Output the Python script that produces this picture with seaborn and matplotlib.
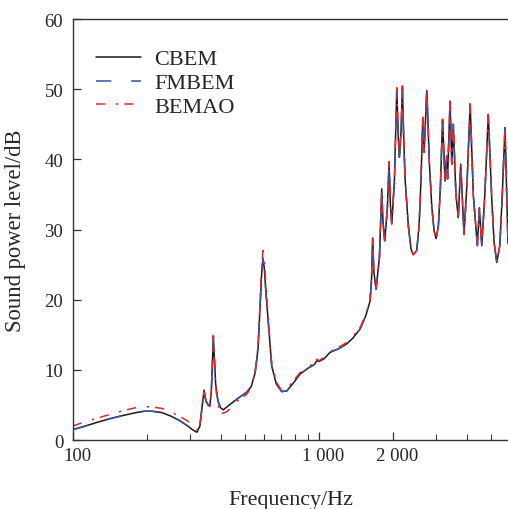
import numpy as np
import pandas as pd
import matplotlib
matplotlib.use("Agg")
import matplotlib.pyplot as plt
import matplotlib.transforms as mtransforms
import seaborn as sns

# 데이터
freq = [100, 110, 125, 140, 160, 180, 195, 210, 230, 250, 270, 290, 305, 319, 328,
        334, 341, 347, 354, 360, 365, 369, 372, 375, 380, 388, 398, 408, 425, 447,
        475, 508, 530, 550, 565, 576, 585, 592, 599, 610, 622, 642, 670, 705, 740,
        790, 837, 900, 960, 979, 1000, 1050, 1109, 1200, 1296, 1371, 1468, 1552, 1612, 1635,
        1652, 1670, 1705, 1760, 1798, 1820, 1849, 1895, 1926, 1950, 1975, 2025, 2070, 2100, 2121,
        2155, 2182, 2205, 2237, 2307, 2366, 2415, 2495, 2550, 2598, 2640, 2673, 2742, 2808, 2871,
        2935, 2990, 3055, 3112, 3177, 3252, 3303, 3330, 3408, 3463, 3515, 3600, 3680, 3767, 3884,
        4000, 4113, 4239, 4401, 4484, 4586, 4720, 4875, 5036, 5145, 5277, 5428, 5546, 5700, 5862]

cbem = [1.5, 1.9, 2.5, 3.0, 3.5, 3.9, 4.1, 4.1, 3.9, 3.4, 2.8, 2.1, 1.5, 1.1, 2.0,
        4.5, 7.1, 5.6, 5.0, 4.8, 7.0, 11.5, 14.8, 12.0, 8.0, 5.6, 4.6, 4.3, 4.8, 5.4,
        6.1, 6.8, 7.6, 9.6, 13.0, 19.1, 24.0, 25.9, 24.5, 20.5, 16.8, 10.6, 8.0, 6.9, 7.0,
        8.2, 9.4, 10.2, 10.8, 11.3, 11.2, 11.6, 12.5, 13.0, 13.7, 14.5, 15.8, 17.8, 19.8, 23.0,
        28.8, 24.0, 21.5, 26.0, 35.8, 31.0, 28.4, 33.0, 39.5, 33.5, 30.8, 37.0, 50.1, 43.0, 40.3,
        44.0, 50.4, 44.0, 37.2, 30.5, 27.2, 26.4, 27.0, 30.5, 37.2, 45.8, 41.0, 49.8, 39.5, 33.4,
        29.8, 28.7, 30.5, 35.8, 45.7, 36.9, 40.5, 37.2, 48.3, 39.3, 45.0, 35.0, 31.7, 39.3, 29.3,
        37.0, 47.9, 34.8, 27.7, 33.1, 27.7, 35.0, 46.4, 34.3, 28.2, 25.3, 27.7, 34.3, 44.5, 28.0]

fmbem = [1.5, 1.9, 2.5, 3.0, 3.5, 3.9, 4.1, 4.1, 3.9, 3.4, 2.8, 2.1, 1.5, 1.1, 2.0,
         4.4, 7.0, 5.5, 5.0, 4.8, 7.0, 11.5, 14.7, 12.0, 8.0, 5.6, 4.6, 4.3, 4.8, 5.4,
         6.1, 6.8, 7.6, 9.6, 13.0, 19.1, 24.0, 25.9, 24.5, 20.5, 16.8, 10.6, 8.0, 6.9, 7.0,
         8.2, 9.4, 10.2, 10.8, 11.3, 11.2, 11.6, 12.5, 13.0, 13.7, 14.5, 15.8, 17.8, 19.8, 23.0,
         28.6, 24.0, 21.5, 26.0, 35.6, 31.0, 28.4, 33.0, 39.5, 33.5, 30.8, 37.0, 50.0, 43.0, 40.3,
         44.0, 50.2, 44.0, 37.2, 30.5, 27.2, 26.4, 27.0, 30.5, 37.2, 45.8, 41.0, 49.8, 39.5, 33.4,
         29.8, 28.7, 30.5, 35.8, 45.6, 36.9, 40.5, 37.2, 48.3, 39.3, 45.0, 35.0, 31.7, 39.3, 29.3,
         37.0, 47.9, 34.8, 27.7, 33.1, 27.7, 35.0, 46.4, 34.3, 28.2, 25.3, 27.7, 34.3, 44.5, 28.0]

bemao = [2.0, 2.5, 3.1, 3.6, 4.2, 4.6, 4.75, 4.7, 4.5, 4.0, 3.4, 2.8, 2.1, 1.4, 2.2,
         4.3, 6.8, 5.4, 4.9, 4.7, 7.2, 11.8, 14.9, 12.0, 7.6, 5.0, 4.0, 3.8, 4.1, 5.1,
         5.8, 6.5, 7.5, 9.8, 13.5, 19.8, 25.0, 27.0, 25.5, 21.5, 17.2, 11.0, 8.3, 7.0, 7.3,
         8.5, 9.6, 10.4, 11.0, 11.5, 11.3, 11.8, 12.6, 13.2, 13.9, 14.8, 16.0, 18.0, 20.0, 23.5,
         28.6, 24.0, 21.5, 26.0, 35.6, 31.0, 28.4, 33.0, 39.7, 33.5, 30.8, 37.0, 50.2, 43.0, 40.3,
         44.0, 50.5, 44.0, 37.2, 30.5, 27.2, 26.4, 27.0, 30.5, 37.2, 46.0, 41.0, 50.2, 39.5, 33.4,
         29.8, 28.7, 30.5, 35.8, 45.7, 36.9, 40.5, 37.2, 48.6, 39.3, 45.0, 35.0, 31.7, 39.3, 29.3,
         37.0, 48.0, 34.8, 27.7, 33.1, 27.7, 35.0, 46.6, 34.3, 28.2, 25.3, 27.7, 34.3, 44.7, 28.0]

methods = ["CBEM", "FMBEM", "BEMAO"]
colors = {"CBEM": "#1a1a1a", "FMBEM": "#2f55a4", "BEMAO": "#e8262b"}
dash_styles = {"CBEM": "", "FMBEM": (10, 13), "BEMAO": (6, 7, 1.5, 4)}

x_ticks = [100, 1000, 2000]
x_tick_labels = ["100", "1 000", "2 000"]
x_minor = [200, 300, 400, 500, 600, 700, 800, 900, 3000, 4000, 5000]
y_ticks = [0, 10, 20, 30, 40, 50, 60]

df = pd.DataFrame({
  "freq": freq * 3,
  "level": cbem + fmbem + bemao,
  "method": ["CBEM"] * len(freq) + ["FMBEM"] * len(freq) + ["BEMAO"] * len(freq),
})

# 스타일 설정
sns.set_style("ticks", {"xtick.direction": "in", "ytick.direction": "in"})
plt.rcParams['font.family'] = ['Liberation Serif', 'DejaVu Serif']
plt.rcParams['axes.unicode_minus'] = False

fig = plt.figure(figsize=(5.08, 5.10), dpi=100)
ax = fig.add_axes([73 / 508, 1 - 441 / 510, 1 - 73 / 508, (441 - 20) / 510])

sns.lineplot(data=df, x="freq", y="level", hue="method", style="method",
             hue_order=methods, style_order=methods, palette=colors,
             dashes=dash_styles, estimator=None, linewidth=1.1, ax=ax)

ax.set_xscale("log")
ax.set_xlim(100, 5862)
ax.set_ylim(0, 60)
ax.set_xticks(x_ticks)
ax.set_xticklabels(x_tick_labels)
ax.set_xticks(x_minor, minor=True)
ax.set_xticklabels([], minor=True)
ax.set_yticks(y_ticks)

for side in ["left", "bottom", "top"]:
  ax.spines[side].set_visible(True)
  ax.spines[side].set_color("#333333")
  ax.spines[side].set_linewidth(1.0)
ax.spines["right"].set_visible(False)

ax.tick_params(axis="both", which="major", direction="in", length=5.5, width=0.9,
               labelsize=13.5, color="#333333", pad=5, top=False, right=False)
ax.tick_params(axis="x", which="minor", direction="in", length=4, width=0.8,
               color="#333333", top=False)
ax.tick_params(axis="y", pad=7)

# x 눈금 라벨을 오른쪽으로 약간 이동
offset = mtransforms.ScaledTranslation(4 / 100, 0, fig.dpi_scale_trans)
for lab in ax.get_xticklabels():
  lab.set_transform(lab.get_transform() + offset)

ax.set_xlabel("Frequency/Hz", fontsize=15.8, labelpad=18.5)
ax.set_ylabel("Sound power level/dB", fontsize=16.3, labelpad=13)

handles, labels = ax.get_legend_handles_labels()
ax.legend(handles, labels, loc="upper left", bbox_to_anchor=(0.033, 0.95),
          frameon=False, fontsize=16, handlelength=2.0, handletextpad=0.6,
          labelspacing=0.15, borderaxespad=0)

fig.savefig("out.png", dpi=100)
